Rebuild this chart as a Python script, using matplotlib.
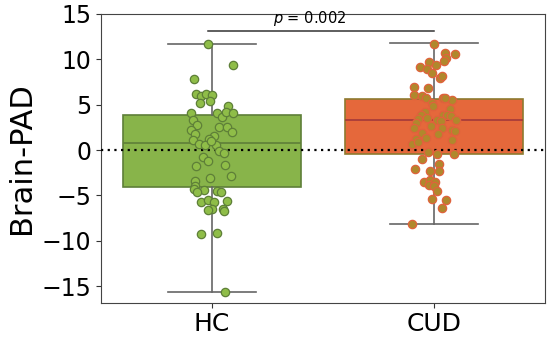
import numpy as np
import matplotlib.pyplot as plt

# box summary
groups = ['HC', 'CUD']
q1 = [-4.1, -0.45]
med = [0.8, 3.33]
q3 = [3.9, 5.67]
whislo = [-15.6, -8.2]
whishi = [11.65, 11.75]

# HC points: value, jitter offset
hc_vals = [11.67, 9.33, 7.85, 6.19, 5.93, 6.19, 6.07, 5.19, 5.41, 4.89, 4.04, 4.04,
           3.67, 4.19, 4.04, 3.3, 2.78, 2.22, 1.78, 2.59, 2.52, 1.96, 1.56, 1.19,
           1.11, 0.67, 0.52, 0.59, 0.96, -0.07, -0.37, -0.81, -1.26, -1.78, -1.7,
           -2.81, -3.11, -3.41, -3.96, -4.33, -4.37, -4.52, -4.59, -4.67, -5.78,
           -5.48, -5.7, -5.63, -6.48, -6.52, -6.59, -6.67, -9.3, -9.15, -15.6]
hc_off = [-0.02, 0.094, -0.08, -0.072, -0.05, -0.027, 0.0, -0.052, -0.008, 0.072, -0.095, 0.021,
          0.045, 0.063, 0.095, -0.086, -0.068, -0.093, -0.075, 0.031, 0.069, 0.088, 0.01, -0.012,
          -0.086, -0.057, -0.033, 0.018, -0.003, 0.033, 0.054, -0.039, -0.019, -0.072, 0.057,
          0.087, -0.009, -0.078, -0.076, -0.08, -0.036, 0.021, 0.04, -0.068, -0.05,
          -0.019, 0.01, 0.066, -0.001, 0.05, -0.016, 0.055, -0.048, 0.022, 0.057]

# CUD points: value, jitter offset
cud_vals = [11.74, 10.74, 10.56, 10.1, 9.81, 9.74, 9.37, 9.15, 8.89, 8.52, 7.96, 8.15,
            6.96, 6.85, 6.11, 5.93, 5.74, 5.74, 5.56, 5.19, 4.81, 5.74, 4.52, 4.15,
            3.81, 3.89, 3.89, 3.7, 3.41, 3.52, 3.33, 3.15, 3.33, 2.96, 2.67, 2.48,
            2.41, 2.2, 2.1, 1.93, 1.74, 1.19, 1.3, 1.07, 0.63, 0.93, -0.19, -0.48,
            -0.44, -1.04, -1.52, -2.04, -2.3, -2.3, -3.52, -3.33, -3.56, -3.89, -4.0,
            -4.56, -5.37, -5.56, -6.41, -8.2]
cud_off = [0.0, 0.05, 0.093, 0.053, 0.046, -0.022, 0.01, -0.065, -0.03, -0.008, 0.026, 0.037,
           -0.091, -0.026, -0.088, -0.055, -0.035, 0.04, 0.079, -0.008, -0.005, 0.051, 0.071, -0.04,
           -0.06, 0.04, 0.057, 0.078, -0.074, -0.033, 0.015, 0.03, 0.097, -0.081, -0.015, -0.088,
           0.037, 0.079, 0.093, -0.052, 0.017, -0.082, -0.035, 0.079, -0.097, -0.074, -0.027, 0.015,
           0.09, -0.052, 0.024, -0.085, -0.018, 0.022, -0.046, -0.02, 0.005, -0.022, -0.001,
           0.012, -0.008, 0.052, 0.034, -0.097]

box_fill = ['#88b44a', '#e5683b']
box_edge = ['#5e7f38', '#8d7a2f']
med_col = ['#5e7f38', '#a3383a']

fig = plt.figure(figsize=(5.5, 3.37), dpi=100)
ax = fig.add_axes([0.1836, 0.1009, 0.8074, 0.8576])

stats = []
for i in range(2):
    stats.append(dict(med=med[i], q1=q1[i], q3=q3[i], whislo=whislo[i], whishi=whishi[i], fliers=[]))
bp = ax.bxp(stats, positions=[0, 1], widths=0.8, patch_artist=True, showfliers=False,
            whiskerprops=dict(color='#666666', lw=1.2), capprops=dict(color='#666666', lw=1.2),
            capwidths=0.4)
for i, b in enumerate(bp['boxes']):
    b.set_facecolor(box_fill[i])
    b.set_edgecolor(box_edge[i])
    b.set_linewidth(1.2)
    b.set_zorder(2)
for i, m in enumerate(bp['medians']):
    m.set_color(med_col[i])
    m.set_linewidth(1.2)
    m.set_zorder(2.5)

ax.axhline(0, color='black', ls=(0, (1, 2)), lw=1.6, zorder=3)

ax.scatter(np.array(hc_off), hc_vals, s=36, c='#8fbd48', edgecolors='#5e7f38', lw=0.9, zorder=4)
ax.scatter(1 + np.array(cud_off), cud_vals, s=36, c='#b0882c', edgecolors='#e0623c', lw=0.9, zorder=4)

# significance bar
ax.plot([-0.02, 1.0], [13.1, 13.1], color='#333333', lw=1.1)
ax.text(0.44, 13.45, r'$p$ = 0.002', ha='center', va='bottom', fontsize=10.5)

ax.set_xlim(-0.5, 1.5)
ax.set_ylim(-16.86, 15)
ax.set_yticks([-15, -10, -5, 0, 5, 10, 15])
ax.set_xticks([0, 1])
ax.set_xticklabels(groups)
ax.tick_params(axis='y', labelsize=17, color='#333333')
ax.tick_params(axis='x', labelsize=18, color='#333333', pad=3)
ax.set_ylabel('Brain-PAD', fontsize=22, labelpad=4)
for s in ax.spines.values():
    s.set_color('#444444')

plt.savefig('out.png', dpi=100)
